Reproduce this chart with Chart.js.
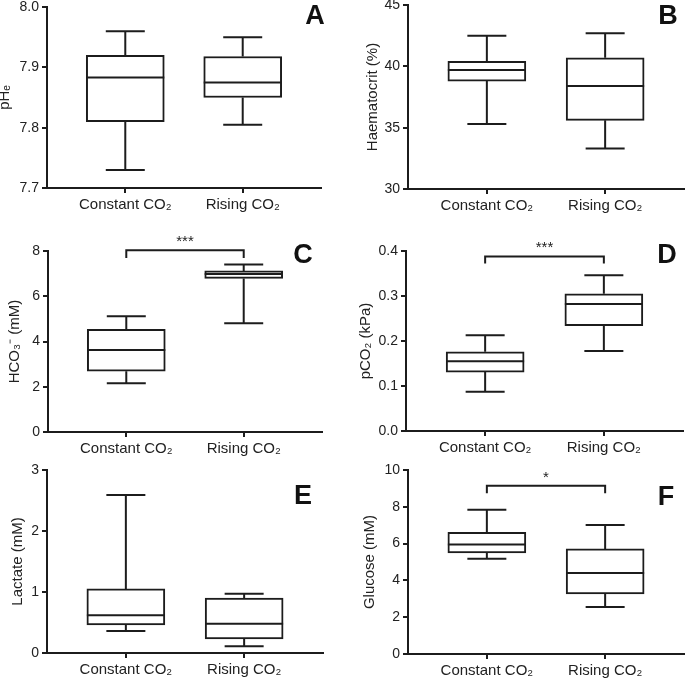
<!DOCTYPE html>
<html>
<head>
<meta charset="utf-8">
<script src="https://cdn.jsdelivr.net/npm/chart.js@4.4.0/dist/chart.umd.min.js"></script>
<style>
  html, body { margin: 0; padding: 0; background: #fff; }
  #wrap { position: relative; width: 685px; height: 679px; overflow: hidden; }
  #wrap canvas { position: absolute; }
</style>
</head>
<body>
<div id="wrap"></div>
<script>
const groups = ["Constant CO₂", "Rising CO₂"];

// each box: [min, q1, median, q3, max]
const pheConstant = [7.73, 7.81, 7.883, 7.92, 7.96];
const pheRising = [7.805, 7.85, 7.875, 7.918, 7.95];
const hctConstant = [35.3, 38.8, 39.7, 40.4, 42.5];
const hctRising = [33.3, 35.6, 38.4, 40.7, 42.7];
const hco3Constant = [2.15, 2.69, 3.62, 4.54, 5.12];
const hco3Rising = [4.81, 6.79, 6.98, 7.12, 7.4];
const pco2Constant = [0.087, 0.131, 0.155, 0.176, 0.213];
const pco2Rising = [0.178, 0.234, 0.282, 0.305, 0.346];
const lactateConstant = [0.36, 0.46, 0.62, 1.05, 2.59];
const lactateRising = [0.11, 0.23, 0.48, 0.9, 0.97];
const glucoseConstant = [5.18, 5.49, 5.95, 6.61, 7.84];
const glucoseRising = [2.55, 3.26, 4.4, 5.71, 7.01];

const pheTicks = [7.7, 7.8, 7.9, 8.0];
const hctTicks = [30, 35, 40, 45];
const hco3Ticks = [0, 2, 4, 6, 8];
const pco2Ticks = [0, 0.1, 0.2, 0.3, 0.4];
const lactateTicks = [0, 1, 2, 3];
const glucoseTicks = [0, 2, 4, 6, 8, 10];

// significance brackets: [bracket level, end of drop lines]
const hco3Sig = [8.03, 7.69];
const pco2Sig = [0.388, 0.372];
const glucoseSig = [9.15, 8.73];

const ink = "#1c1c1c";
const txt = "#222";
const family = '"Liberation Sans", Arial, sans-serif';

// cv = canvas [left, top, width, height], area = plot [left, top, right, bottom], page pixels
const panels = [
  { letter: "A", title: "pHₑ", series: [pheConstant, pheRising], ticks: pheTicks, dec: 1,
    cv: [0, -10, 342, 234], area: [47, 7, 321, 188], letterAt: [315, 16], titlePad: -3 },
  { letter: "B", title: "Haematocrit (%)", series: [hctConstant, hctRising], ticks: hctTicks, dec: 0,
    cv: [342, -10, 343, 234], area: [408, 5, 684, 189], letterAt: [668, 16], titlePad: 23 },
  { letter: "C", title: "HCO₃⁻ (mM)", series: [hco3Constant, hco3Rising], ticks: hco3Ticks, dec: 0,
    cv: [0, 224, 342, 238], area: [48, 251, 322, 432], letterAt: [303, 255], titlePad: 7,
    sig: hco3Sig, stars: "***" },
  { letter: "D", title: "pCO₂ (kPa)", series: [pco2Constant, pco2Rising], ticks: pco2Ticks, dec: 1,
    cv: [342, 224, 343, 238], area: [406, 251, 683, 431], letterAt: [667, 255], titlePad: 16,
    sig: pco2Sig, stars: "***" },
  { letter: "E", title: "Lactate (mM)", series: [lactateConstant, lactateRising], ticks: lactateTicks, dec: 0,
    cv: [0, 450, 342, 229], area: [47, 470, 323, 653], letterAt: [303, 496], titlePad: 10 },
  { letter: "F", title: "Glucose (mM)", series: [glucoseConstant, glucoseRising], ticks: glucoseTicks, dec: 0,
    cv: [342, 450, 343, 229], area: [408, 470, 684, 654], letterAt: [666, 497], titlePad: 20,
    sig: glucoseSig, stars: "*" }
];

const wrap = document.getElementById("wrap");

function boxPlugin(p) {
  return {
    id: "boxes",
    afterDatasetsDraw(chart) {
      const ctx = chart.ctx;
      const y = chart.scales.y;
      const x = chart.scales.x;
      const meta = chart.getDatasetMeta(0);
      ctx.save();
      ctx.strokeStyle = ink;
      ctx.lineWidth = 2;
      p.series.forEach((s, i) => {
        const bar = meta.data[i];
        const cx = bar.x;
        const half = bar.width / 2;
        const cap = half / 2;
        const [mn, q1, md, q3, mx] = s.map((v) => y.getPixelForValue(v));
        ctx.beginPath();
        ctx.moveTo(cx - half, md); ctx.lineTo(cx + half, md);
        ctx.moveTo(cx, q3); ctx.lineTo(cx, mx);
        ctx.moveTo(cx - cap, mx); ctx.lineTo(cx + cap, mx);
        ctx.moveTo(cx, q1); ctx.lineTo(cx, mn);
        ctx.moveTo(cx - cap, mn); ctx.lineTo(cx + cap, mn);
        ctx.stroke();
      });

      if (p.sig) {
        const x0 = x.getPixelForValue(0);
        const x1 = x.getPixelForValue(1);
        const top = y.getPixelForValue(p.sig[0]);
        const end = y.getPixelForValue(p.sig[1]);
        ctx.beginPath();
        ctx.moveTo(x0, end); ctx.lineTo(x0, top); ctx.lineTo(x1, top); ctx.lineTo(x1, end);
        ctx.stroke();
        ctx.fillStyle = txt;
        ctx.font = "15px " + family;
        ctx.textAlign = "center";
        ctx.textBaseline = "alphabetic";
        ctx.fillText(p.stars, (x0 + x1) / 2, top - 4);
      }

      ctx.fillStyle = "#111";
      ctx.font = "bold 27px " + family;
      ctx.textAlign = "center";
      ctx.textBaseline = "middle";
      ctx.fillText(p.letter, p.letterAt[0] - p.cv[0], p.letterAt[1] - p.cv[1] + 1);
      ctx.restore();
    }
  };
}

panels.forEach((p) => {
  const [left, top, w, h] = p.cv;
  const [al, at, ar, ab] = p.area;
  const canvas = document.createElement("canvas");
  canvas.width = w;
  canvas.height = h;
  canvas.style.left = left + "px";
  canvas.style.top = top + "px";
  wrap.appendChild(canvas);

  const axisGrid = {
    display: true,
    drawOnChartArea: false,
    drawTicks: true,
    tickLength: 5,
    lineWidth: 2,
    color: ink,
    offset: false
  };

  new Chart(canvas, {
    type: "bar",
    data: {
      datasets: [{
        data: p.series.map((s, i) => ({ x: i, y: [s[1], s[3]] })),
        backgroundColor: "#fff",
        borderColor: ink,
        borderWidth: 2,
        borderSkipped: false,
        barThickness: 78
      }]
    },
    options: {
      responsive: false,
      animation: false,
      devicePixelRatio: 1,
      layout: { padding: { left: 0, top: at - top, right: left + w - ar, bottom: 0 } },
      plugins: { legend: { display: false }, tooltip: { enabled: false } },
      scales: {
        x: {
          type: "linear",
          min: -2 / 3,
          max: 5 / 3,
          offset: false,
          afterBuildTicks: (s) => { s.ticks = groups.map((g, i) => ({ value: i })); },
          afterFit: (s) => { s.height = top + h - ab; },
          ticks: {
            callback: (v) => groups[v],
            font: { family: family, size: 15 },
            color: txt,
            padding: 3,
            maxRotation: 0,
            autoSkip: false
          },
          grid: axisGrid,
          border: { display: true, width: 2, color: ink }
        },
        y: {
          type: "linear",
          min: p.ticks[0],
          max: p.ticks[p.ticks.length - 1],
          afterBuildTicks: (s) => { s.ticks = p.ticks.map((v) => ({ value: v })); },
          afterFit: (s) => { s.width = al - left; },
          ticks: {
            callback: (v) => v.toFixed(p.dec),
            font: { family: family, size: 14 },
            color: txt,
            padding: 3,
            autoSkip: false
          },
          title: {
            display: true,
            text: p.title,
            font: { family: family, size: 15 },
            color: txt,
            padding: { top: p.titlePad - 1, bottom: 0 }
          },
          grid: axisGrid,
          border: { display: true, width: 2, color: ink }
        }
      }
    },
    plugins: [boxPlugin(p)]
  });
});
</script>
</body>
</html>
